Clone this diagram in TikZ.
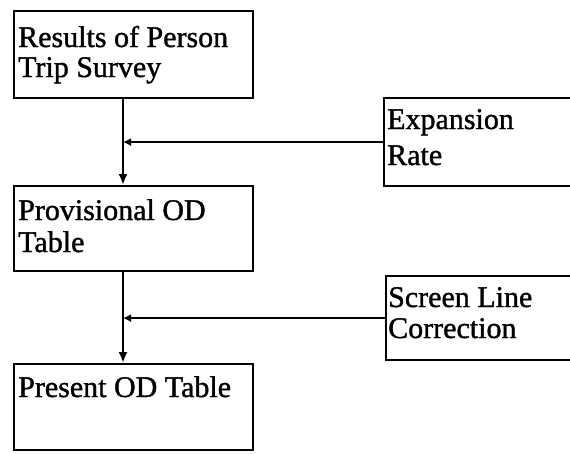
\documentclass[tikz,border=0pt]{standalone}
\usepackage{fontspec}
\setmainfont{Liberation Serif}[BoldFont=Liberation Serif,BoldFeatures={FakeBold=1.2}]
\usetikzlibrary{arrows.meta}
\begin{document}
\begin{tikzpicture}[x=1pt,y=-1pt,
  box/.style={draw=black,line width=2.2pt,rectangle,inner sep=0pt,anchor=north west},
  txt/.style={inner sep=0pt,anchor=base west,font=\fontsize{30}{32}\selectfont\bfseries},
  conn/.style={line width=2.2pt,-{Latex[length=11pt,width=9pt]}},
  hconn/.style={line width=1.8pt,-{Latex[length=8pt,width=8pt]}}]
\useasboundingbox[fill=white] (0,0) rectangle (570,453);
% boxes
\node[box,minimum width=239pt,minimum height=87pt] (b1) at (13,10) {};
\node[box,minimum width=239pt,minimum height=85pt] (b2) at (13,185) {};
\node[box,minimum width=239pt,minimum height=86pt] (b3) at (13,363) {};
\node[box,minimum width=210pt,minimum height=88pt] (exp) at (383,97) {};
\node[box,minimum width=210pt,minimum height=84pt] (scr) at (385,275) {};
% texts
\node[txt] (t1a) at (18,47) {Results of Person};
\node[txt] (t1b) at (18,77) {Trip Survey};
\node[txt] (t2a) at (18,220) {Provisional OD};
\node[txt] (t2b) at (18,252) {Table};
\node[txt] (t3a) at (18,397) {Present OD Table};
\node[txt] (tea) at (387,129) {Expansion};
\node[txt] (teb) at (387,165) {Rate};
\node[txt] (tsa) at (388,307) {Screen Line};
\node[txt] (tsb) at (388,338) {Correction};
% connectors
\coordinate (v) at (123,0);
\draw[conn] (b1.south -| v) -- (b2.north -| v);
\draw[conn] (b2.south -| v) -- (b3.north -| v);
\draw[hconn] (exp.west) -- (exp.west -| v);
\draw[hconn] (scr.west) -- (scr.west -| v);
\end{tikzpicture}
\end{document}
